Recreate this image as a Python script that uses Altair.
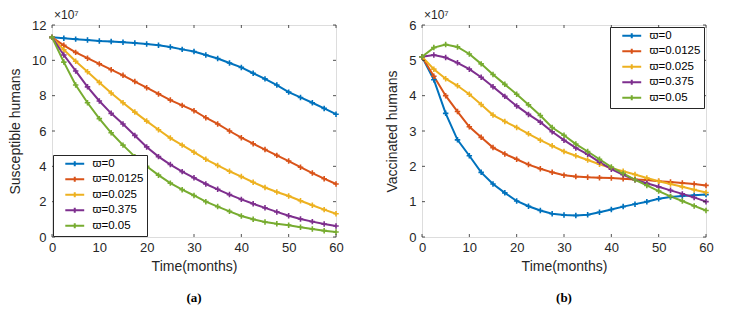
import altair as alt
import pandas as pd

months = [0, 2.5, 5, 7.5, 10, 12.5, 15, 17.5, 20, 22.5, 25, 27.5, 30, 32.5, 35, 37.5,
          40, 42.5, 45, 47.5, 50, 52.5, 55, 57.5, 60]
series_names = ["ϖ=0", "ϖ=0.0125", "ϖ=0.025", "ϖ=0.375", "ϖ=0.05"]
colors = ["#0072BD", "#D95319", "#EDB120", "#7E2F8E", "#77AC30"]

# Panel (a): Susceptible humans (x 1e7)
sus_0 = [11.3, 11.25, 11.2, 11.15, 11.1, 11.07, 11.03, 10.98, 10.92, 10.85, 10.75, 10.62, 10.5,
         10.3, 10.1, 9.85, 9.6, 9.27, 8.95, 8.6, 8.2, 7.9, 7.6, 7.28, 6.95]
sus_1 = [11.3, 10.85, 10.45, 10.12, 9.8, 9.47, 9.15, 8.8, 8.45, 8.1, 7.75, 7.45, 7.15,
         6.75, 6.4, 6.0, 5.62, 5.28, 4.95, 4.62, 4.3, 3.95, 3.62, 3.3, 3.0]
sus_2 = [11.3, 10.6, 9.95, 9.35, 8.75, 8.15, 7.6, 7.07, 6.56, 6.07, 5.6, 5.2, 4.8,
         4.4, 4.05, 3.72, 3.42, 3.1, 2.8, 2.55, 2.32, 2.05, 1.8, 1.55, 1.32]
sus_3 = [11.3, 10.3, 9.4, 8.5, 7.7, 7.0, 6.4, 5.75, 5.1, 4.55, 4.1, 3.7, 3.35,
         3.0, 2.7, 2.4, 2.13, 1.88, 1.65, 1.42, 1.2, 1.02, 0.87, 0.73, 0.62]
sus_4 = [11.3, 9.9, 8.6, 7.6, 6.7, 5.9, 5.2, 4.55, 4.0, 3.5, 3.05, 2.68, 2.35,
         2.0, 1.72, 1.45, 1.19, 1.0, 0.85, 0.75, 0.67, 0.55, 0.45, 0.36, 0.28]

# Panel (b): Vaccinated humans (x 1e7)
vac_0 = [5.1, 4.45, 3.5, 2.75, 2.3, 1.83, 1.5, 1.25, 1.02, 0.87, 0.75, 0.66, 0.62,
         0.61, 0.63, 0.7, 0.78, 0.86, 0.93, 1.0, 1.08, 1.13, 1.16, 1.18, 1.2]
vac_1 = [5.1, 4.55, 4.0, 3.55, 3.12, 2.82, 2.53, 2.35, 2.2, 2.05, 1.93, 1.83, 1.75,
         1.71, 1.69, 1.68, 1.67, 1.65, 1.63, 1.61, 1.58, 1.56, 1.53, 1.5, 1.46]
vac_2 = [5.1, 4.75, 4.48, 4.28, 4.04, 3.75, 3.45, 3.27, 3.1, 2.92, 2.74, 2.58, 2.42,
         2.3, 2.18, 2.06, 1.95, 1.86, 1.77, 1.67, 1.58, 1.5, 1.42, 1.34, 1.26]
vac_3 = [5.1, 5.15, 5.08, 4.93, 4.75, 4.52, 4.25, 3.98, 3.71, 3.47, 3.25, 2.98, 2.74,
         2.52, 2.34, 2.12, 1.92, 1.76, 1.62, 1.52, 1.42, 1.32, 1.22, 1.12, 1.0]
vac_4 = [5.1, 5.36, 5.45, 5.38, 5.18, 4.9, 4.6, 4.32, 4.04, 3.74, 3.44, 3.1, 2.88,
         2.63, 2.42, 2.2, 1.98, 1.8, 1.62, 1.46, 1.3, 1.15, 1.02, 0.88, 0.75]

x_ticks = [0, 10, 20, 30, 40, 50, 60]
y_ticks_a = [0, 2, 4, 6, 8, 10, 12]
y_ticks_b = [0, 1, 2, 3, 4, 5, 6]

W, H = 284, 212
AX = "#262626"
FONT = "Liberation Sans"
PLUS = "M-1,0H1M0,-1V1"
LEG_SYM = "M-2.7,0H2.7M0,-0.7V0.7"


def long_df(vals):
    rows = []
    for name, ys in zip(series_names, vals):
        for m, v in zip(months, ys):
            rows.append({"month": m, "value": v, "series": name})
    return pd.DataFrame(rows)


def panel(vals, ymax, yticks, ytitle, caption, legend_orient, legend_offset):
    df = long_df(vals)
    xs = alt.Scale(domain=[0, 60], nice=False)
    ys = alt.Scale(domain=[0, ymax], nice=False)
    cs = alt.Scale(domain=series_names, range=colors)
    xax = alt.Axis(values=x_ticks, ticks=False, grid=False, domain=False,
                   labelOverlap=False, labelFlush=False,
                   labelFont=FONT, labelFontSize=13, labelColor=AX, labelPadding=4,
                   title="Time(months)", titleFont=FONT, titleFontSize=14,
                   titleFontWeight="normal", titleColor=AX, titlePadding=5)
    yax = alt.Axis(values=yticks, ticks=False, grid=False, domain=False,
                   labelOverlap=False, labelFlush=False,
                   labelFont=FONT, labelFontSize=13, labelColor=AX, labelPadding=6,
                   title=ytitle, titleFont=FONT, titleFontSize=14,
                   titleFontWeight="normal", titleColor=AX, titlePadding=9)
    legend = alt.Legend(title=None, orient=legend_orient, offset=legend_offset,
                        symbolType=LEG_SYM, symbolSize=49, symbolStrokeWidth=2,
                        symbolOffset=13, labelOffset=12,
                        labelFont=FONT, labelFontSize=11.5, labelColor="black",
                        fillColor="white", strokeColor=AX, padding=3, rowPadding=1.5,
                        labelLimit=200)
    base = alt.Chart(df)
    lines = base.mark_line(strokeWidth=2).encode(
        x=alt.X("month:Q", scale=xs, axis=xax),
        y=alt.Y("value:Q", scale=ys, axis=yax),
        color=alt.Color("series:N", scale=cs, sort=series_names, legend=legend),
        detail="series:N",
    )
    pts = base.mark_point(shape=PLUS, filled=False, size=30, strokeWidth=1.6, opacity=1).encode(
        x=alt.X("month:Q", scale=xs, axis=xax),
        y=alt.Y("value:Q", scale=ys, axis=yax),
        color=alt.Color("series:N", scale=cs, sort=series_names, legend=None),
    )
    xt = pd.DataFrame({"t": x_ticks})
    yt = pd.DataFrame({"t": yticks})
    tick_b = alt.Chart(xt).mark_rule(color=AX, strokeWidth=0.8).encode(
        x=alt.X("t:Q", scale=xs, axis=xax), y=alt.value(H), y2=alt.value(H - 3))
    tick_t = alt.Chart(xt).mark_rule(color=AX, strokeWidth=0.8).encode(
        x=alt.X("t:Q", scale=xs, axis=xax), y=alt.value(0), y2=alt.value(3))
    tick_l = alt.Chart(yt).mark_rule(color=AX, strokeWidth=0.8).encode(
        y=alt.Y("t:Q", scale=ys, axis=yax), x=alt.value(0), x2=alt.value(3))
    tick_r = alt.Chart(yt).mark_rule(color=AX, strokeWidth=0.8).encode(
        y=alt.Y("t:Q", scale=ys, axis=yax), x=alt.value(W), x2=alt.value(W - 3))
    exp_txt = alt.Chart(pd.DataFrame({"a": [0]})).mark_text(
        align="left", baseline="bottom", font=FONT, fontSize=12, color=AX, dx=2
    ).encode(x=alt.value(0), y=alt.value(-3), text=alt.value("×10⁷"))
    return alt.layer(lines, pts, tick_b, tick_t, tick_l, tick_r, exp_txt).properties(
        width=W, height=H,
        title=alt.TitleParams(caption, orient="bottom", font="Liberation Serif",
                              fontSize=13, fontWeight="bold", color="black",
                              offset=19, frame="group", anchor="middle"),
    )


left = panel([sus_0, sus_1, sus_2, sus_3, sus_4], 12, y_ticks_a, "Susceptible humans",
             "(a)", "bottom-left", 1)
right = panel([vac_0, vac_1, vac_2, vac_3, vac_4], 6, y_ticks_b, "Vaccinated humans",
              "(b)", "top-right", 2)

chart = alt.hconcat(left, right, spacing=41).resolve_legend(color="independent").resolve_scale(
    color="independent").properties(padding=0).configure_view(
    stroke=AX, strokeWidth=1).configure(background="white")

chart.save("out.html", embed_options={"renderer": "svg", "actions": False})
